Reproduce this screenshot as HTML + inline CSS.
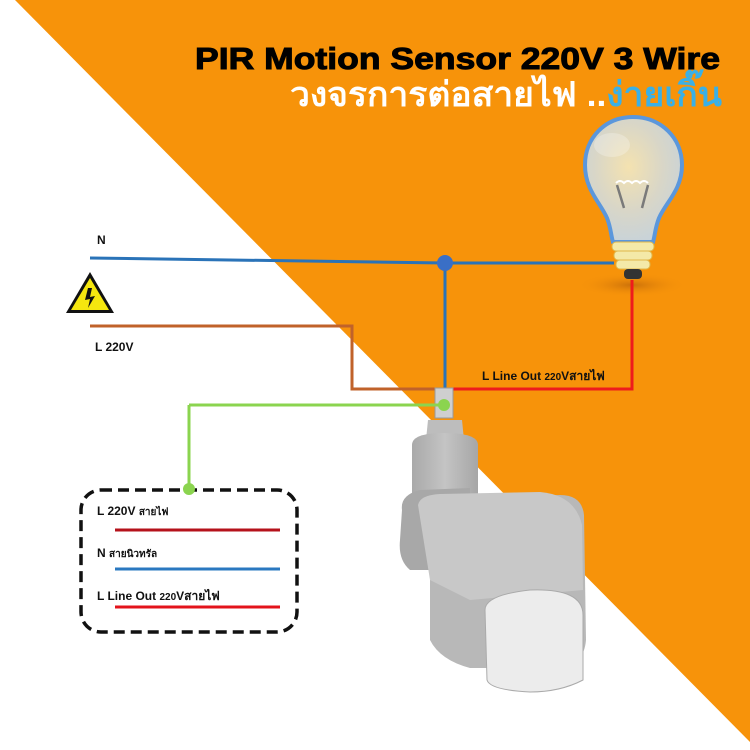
<!DOCTYPE html>
<html><head><meta charset="utf-8"><style>
html,body{margin:0;padding:0;background:#fff}
svg{display:block}
text{font-family:"Liberation Sans",sans-serif;font-weight:bold}
</style></head><body>
<svg width="750" height="750" viewBox="0 0 750 750" xmlns="http://www.w3.org/2000/svg">
<defs>
<radialGradient id="glob" cx="0.45" cy="0.4" r="0.6">
<stop offset="0" stop-color="#f4e2b0"/><stop offset="0.6" stop-color="#d8d6c8"/><stop offset="1" stop-color="#c9d3d8"/></radialGradient>
<radialGradient id="shadow" cx="0.5" cy="0.5" r="0.5"><stop offset="0" stop-color="#b8620a" stop-opacity="0.7"/><stop offset="1" stop-color="#f7930a" stop-opacity="0"/></radialGradient>
<linearGradient id="grey" x1="0" x2="1"><stop offset="0" stop-color="#a9a9a9"/><stop offset="0.5" stop-color="#c4c4c4"/><stop offset="1" stop-color="#a6a6a6"/></linearGradient>
</defs>
<rect width="750" height="750" fill="#fff"/>
<polygon points="15,0 750,0 750,742" fill="#f7930a"/>
<text x="195" y="69" font-size="31" fill="#000" textLength="525" lengthAdjust="spacingAndGlyphs" stroke="#000" stroke-width="1">PIR Motion Sensor 220V 3 Wire</text>
<text x="290" y="106" font-size="34" fill="#fff" textLength="432" lengthAdjust="spacingAndGlyphs">วงจรการต่อสายไฟ ..<tspan fill="#3ab0e6">ง่ายเกิ๊น</tspan></text>
<!-- bulb -->
<ellipse cx="632" cy="285" rx="55" ry="12" fill="url(#shadow)"/>
<path d="M633,117 C605,117 585,138 585,165 C585,190 600,202 607,218 C611,228 611,236 613,242 L653,242 C655,236 655,228 659,218 C666,202 682,190 682,165 C682,138 661,117 633,117 Z" fill="url(#glob)" stroke="#5b97dc" stroke-width="4"/>
<path d="M617,185 L624,208 M648,185 L642,208" stroke="#7a7a7a" stroke-width="2.5" fill="none"/>
<path d="M616,183 q4,-4 8,0 q4,-4 8,0 q4,-4 8,0 q4,-4 8,0" stroke="#fff" stroke-width="2" fill="none"/>
<ellipse cx="612" cy="145" rx="18" ry="12" fill="#fff" opacity="0.25"/>
<rect x="612" y="242" width="42" height="9" rx="4" fill="#f4e9a8" stroke="#e0b74a"/>
<rect x="614" y="251" width="38" height="9" rx="4" fill="#f4e9a8" stroke="#e0b74a"/>
<rect x="616" y="260" width="34" height="9" rx="4" fill="#f4e9a8" stroke="#e0b74a"/>
<rect x="624" y="269" width="18" height="10" rx="4" fill="#333"/>
<!-- wires -->
<polyline points="90,258 445,263 614,263" fill="none" stroke="#2a73b8" stroke-width="3"/>
<line x1="445" y1="263" x2="445" y2="388" stroke="#2a73b8" stroke-width="3"/>
<circle cx="445" cy="263" r="8" fill="#3a6fc6"/>
<polyline points="90,326 352,326 352,389 440,389" fill="none" stroke="#c0622a" stroke-width="3"/>
<polyline points="445,389 632,389 632,280" fill="none" stroke="#ee1c1c" stroke-width="3"/>
<text x="482" y="380" font-size="12" fill="#111">L Line Out <tspan font-size="10">220</tspan>Vสายไฟ</text>
<!-- sensor -->
<rect x="435" y="388" width="18" height="30" fill="#cfcfcf" stroke="#999"/>
<path d="M428,420 L462,420 L464,440 L426,440 Z" fill="#bdbdbd"/>
<path d="M412,445 Q412,433 444,433 Q478,433 478,445 L478,510 Q478,520 444,520 Q412,520 412,510 Z" fill="url(#grey)"/>
<path d="M402,510 Q400,495 420,490 L470,488 L470,570 L410,570 Q398,560 400,540 Z" fill="#a8a8a8"/>
<path d="M430,500 L560,495 Q582,495 584,515 L586,640 Q584,665 560,668 L470,668 Q440,660 430,640 Z" fill="#b8b8b8"/>
<path d="M418,505 Q420,495 440,494 L540,492 Q575,495 582,525 L583,590 L470,600 L430,580 Z" fill="#c8c8c8"/>
<path d="M485,610 Q485,595 530,590 Q583,588 583,615 L583,680 Q560,692 530,692 Q490,690 487,680 Z" fill="#ececec" stroke="#aaa"/>
<line x1="189" y1="405" x2="444" y2="405" stroke="#8bd44f" stroke-width="3"/>
<line x1="189" y1="405" x2="189" y2="489" stroke="#8bd44f" stroke-width="3"/>
<circle cx="444" cy="405" r="6" fill="#8bd44f"/>
<!-- labels -->
<text x="97" y="244" font-size="12" fill="#111">N</text>
<text x="95" y="351" font-size="12" fill="#111">L 220V</text>
<polygon points="90,272 114,313 66,313" fill="#111"/>
<polygon points="90,278 109,310 71,310" fill="#f5e60f"/>
<path d="M88,288 L85,300 L90,299 L88,308 L95,296 L90,297 L92,288 Z" fill="#111"/>
<!-- legend -->
<rect x="81" y="490" width="216" height="142" rx="20" fill="none" stroke="#111" stroke-width="3.5" stroke-dasharray="11,6"/>
<circle cx="189" cy="489" r="6" fill="#8bd44f"/>
<text x="97" y="515" font-size="12" fill="#111">L 220V <tspan font-size="10">สายไฟ</tspan></text>
<line x1="115" y1="530" x2="280" y2="530" stroke="#b5121b" stroke-width="3"/>
<text x="97" y="557" font-size="12" fill="#111">N <tspan font-size="10">สายนิวทรัล</tspan></text>
<line x1="115" y1="569" x2="280" y2="569" stroke="#2a78c0" stroke-width="3"/>
<text x="97" y="600" font-size="12" fill="#111">L Line Out <tspan font-size="10">220</tspan>Vสายไฟ</text>
<line x1="115" y1="607" x2="280" y2="607" stroke="#e3131b" stroke-width="3"/>
</svg>
</body></html>
